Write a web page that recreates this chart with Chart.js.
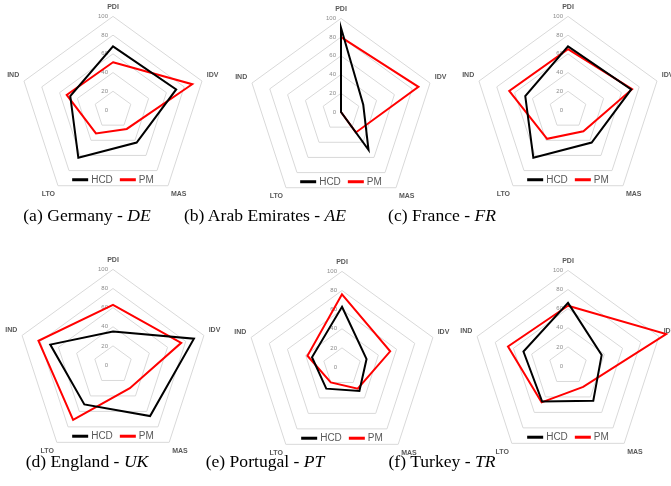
<!DOCTYPE html>
<html>
<head>
<meta charset="utf-8">
<script src="https://cdn.jsdelivr.net/npm/chart.js@4.4.1/dist/chart.umd.min.js"></script>
<style>
  body { margin: 0; background: #fff; }
  #wrap { position: relative; width: 671px; height: 486px; overflow: hidden; background: #fff; }
  #wrap canvas { position: absolute; }
  .cap { position: absolute; transform: translate(-50%, -50%); white-space: nowrap;
         font-family: "Liberation Serif", "Times New Roman", serif; font-size: 17.6px; color: #000; }
  .cap i { font-style: italic; }
</style>
</head>
<body>
<div id="wrap"></div>
<script>
// Hofstede dimensions, clockwise from the top
const axes = ['PDI', 'IDV', 'MAS', 'LTO', 'IND'];
const tickValues = [0, 20, 40, 60, 80, 100];

const hcdDE = [68, 71, 43, 63, 48];
const pmDE  = [51, 89, 25, 31, 52];
const hcdAE = [90, 25, 50, 0, 0];
const pmAE  = [80, 87, 27, 0, 0];
const hcdFR = [68, 71, 43, 63, 48];
const pmFR  = [65, 72, 28, 38, 66];
const hcdUK = [35, 89, 66, 51, 69];
const pmUK  = [63, 75, 30, 71, 82];
const hcdPT = [63, 27, 31, 28, 33];
const pmPT  = [76, 53, 28, 20, 38];
const hcdTR = [66, 37, 45, 46, 49];
const pmTR  = [63, 108, 27, 47, 66];

const letters = ['a', 'b', 'c', 'd', 'e', 'f'];
const countries = ['Germany', 'Arab Emirates', 'France', 'England', 'Portugal', 'Turkey'];
const codes = ['DE', 'AE', 'FR', 'UK', 'PT', 'TR'];
const hcd = [hcdDE, hcdAE, hcdFR, hcdUK, hcdPT, hcdTR];
const pm = [pmDE, pmAE, pmFR, pmUK, pmPT, pmTR];

// canvas placement (left, top, size) and caption centres
const panels = [
  [6, -3, 214], [234, -1, 214], [461, -3, 214],
  [4, 250, 219], [233, 252, 219], [459, 251, 219]
];
const captionPos = [[87, 215], [265, 215], [442, 215], [87, 461], [265, 461], [442, 461]];

const sans = '"Liberation Sans", Arial, sans-serif';

// value labels left of the vertical axis, and the legend inside the plot
const extras = {
  id: 'extras',
  beforeDatasetsDraw(chart) {
    const r = chart.scales.r;
    const ctx = chart.ctx;
    ctx.save();
    ctx.font = '6px ' + sans;
    ctx.fillStyle = '#8c8c8c';
    ctx.textAlign = 'right';
    ctx.textBaseline = 'middle';
    tickValues.forEach(v => {
      ctx.fillText(String(v), r.xCenter - 5, r.yCenter - r.getDistanceFromCenterForValue(v));
    });
    ctx.restore();
  },
  afterDraw(chart) {
    const r = chart.scales.r;
    const ctx = chart.ctx;
    const sets = chart.data.datasets;
    ctx.save();
    ctx.font = '10px ' + sans;
    const lineLen = 16, gap = 3, itemGap = 7;
    const widths = sets.map(d => lineLen + gap + ctx.measureText(d.label).width);
    const total = widths.reduce((a, b) => a + b, 0) + itemGap * (sets.length - 1);
    let x = r.xCenter - total / 2;
    const y = r.yCenter + r.drawingArea * 0.745;
    sets.forEach((d, i) => {
      ctx.strokeStyle = d.borderColor;
      ctx.lineWidth = 3;
      ctx.beginPath();
      ctx.moveTo(x, y);
      ctx.lineTo(x + lineLen, y);
      ctx.stroke();
      ctx.fillStyle = '#595959';
      ctx.textAlign = 'left';
      ctx.textBaseline = 'middle';
      ctx.fillText(d.label, x + lineLen + gap, y + 0.5);
      x += widths[i] + itemGap;
    });
    ctx.restore();
  }
};

const wrap = document.getElementById('wrap');

panels.forEach((p, i) => {
  const cv = document.createElement('canvas');
  cv.width = p[2];
  cv.height = p[2];
  cv.style.left = p[0] + 'px';
  cv.style.top = p[1] + 'px';
  cv.style.width = p[2] + 'px';
  cv.style.height = p[2] + 'px';
  wrap.appendChild(cv);

  new Chart(cv.getContext('2d'), {
    type: 'radar',
    data: {
      labels: axes,
      datasets: [
        { label: 'HCD', data: hcd[i], borderColor: '#000000', backgroundColor: 'transparent',
          borderWidth: 2, pointRadius: 0, fill: false },
        { label: 'PM', data: pm[i], borderColor: '#ff0000', backgroundColor: 'transparent',
          borderWidth: 2, pointRadius: 0, fill: false }
      ]
    },
    options: {
      responsive: false,
      animation: false,
      devicePixelRatio: 1,
      plugins: { legend: { display: false }, tooltip: { enabled: false } },
      scales: {
        r: {
          min: 0,
          max: 100,
          ticks: { display: false, stepSize: 20 },
          grid: { color: '#d9d9d9', lineWidth: 1 },
          angleLines: { display: false },
          pointLabels: {
            color: '#595959',
            padding: 5,
            font: { family: sans, size: 7, weight: 'bold' }
          }
        }
      }
    },
    plugins: [extras]
  });

  const cap = document.createElement('div');
  cap.className = 'cap';
  cap.style.left = captionPos[i][0] + 'px';
  cap.style.top = captionPos[i][1] + 'px';
  cap.innerHTML = '(' + letters[i] + ') ' + countries[i] + ' - <i>' + codes[i] + '</i>';
  wrap.appendChild(cap);
});
</script>
</body>
</html>
